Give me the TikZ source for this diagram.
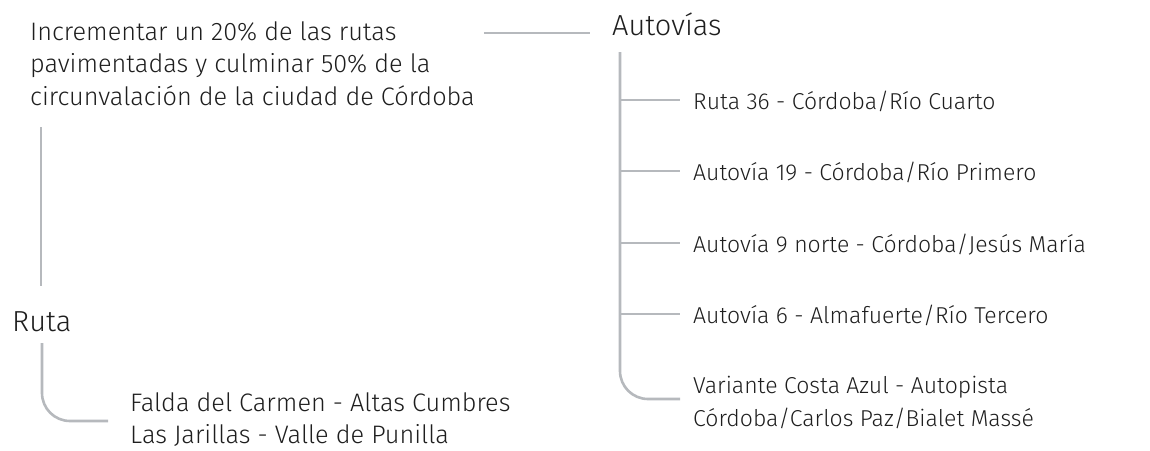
\documentclass[tikz,border=0pt]{standalone}
\usepackage{fontspec}
\setmainfont{Fira Sans Light}
\definecolor{textc}{HTML}{1E1E1E}
\definecolor{linec}{HTML}{B6B9BD}
\begin{document}
\begin{tikzpicture}[x=1pt,y=-1pt,
  txt/.style={anchor=base west, inner sep=0pt, text=textc, font=\fontsize{25.3}{32.5}\selectfont},
  item/.style={txt, font=\fontsize{23}{33}\selectfont},
  head/.style={txt, font=\fontsize{29}{36}\selectfont},
  link/.style={draw=linec, line width=2.6pt},
]
\useasboundingbox (0,0) rectangle (1150,450);
% nodes
\node[txt] (root) at (30,40) {\begin{tabular}[t]{@{}l@{}}Incrementar un 20\% de las rutas\\pavimentadas y culminar 50\% de la\\circunvalación de la ciudad de Córdoba\end{tabular}};
\node[head] (aut) at (612,35) {Autovías};
\node[item] (i1) at (693,109) {Ruta 36 - Córdoba/Río Cuarto};
\node[item] (i2) at (693,180) {Autovía 19 - Córdoba/Río Primero};
\node[item] (i3) at (693,252) {Autovía 9 norte - Córdoba/Jesús María};
\node[item] (i4) at (693,323) {Autovía 6 - Almafuerte/Río Tercero};
\node[item] (i5) at (693,393) {\begin{tabular}[t]{@{}l@{}}Variante Costa Azul - Autopista\\Córdoba/Carlos Paz/Bialet Massé\end{tabular}};
\node[head] (ruta) at (12,331) {Ruta};
\node[txt] (f) at (130,411) {\begin{tabular}[t]{@{}l@{}}Falda del Carmen - Altas Cumbres\\Las Jarillas - Valle de Punilla\end{tabular}};
% connectors
\coordinate (c1) at ([xshift=9pt,yshift=-15.75pt]root.north east);
\coordinate (c2) at ([xshift=-22pt]aut.base west);
\draw[link] (c1) -- (c1 -| c2);
\coordinate (tr) at ([xshift=8pt,yshift=-17pt]aut.base west);
\coordinate (b1) at ([xshift=-13pt,yshift=9pt]i1.base west);
\coordinate (b2) at ([xshift=-13pt,yshift=9pt]i2.base west);
\coordinate (b3) at ([xshift=-13pt,yshift=9pt]i3.base west);
\coordinate (b4) at ([xshift=-13pt,yshift=9pt]i4.base west);
\coordinate (b5) at ([xshift=-13pt,yshift=-6pt]i5.base west);
\draw[link, rounded corners=28pt] (tr) -- (tr |- b5) -- (b5);
\foreach \b in {b1,b2,b3,b4} \draw[link] (tr |- \b) -- (\b);
\coordinate (lv1) at ([xshift=11pt,yshift=-87pt]root.base west);
\coordinate (lv2) at ([xshift=29pt,yshift=45pt]ruta.base west);
\draw[link] (lv1) -- (lv1 |- lv2);
\coordinate (rv) at ([xshift=30pt,yshift=-12pt]ruta.base west);
\coordinate (fe) at ([xshift=-22pt,yshift=-10pt]f.base west);
\draw[link, rounded corners=28pt] (rv) -- (rv |- fe) -- (fe);
\end{tikzpicture}
\end{document}
